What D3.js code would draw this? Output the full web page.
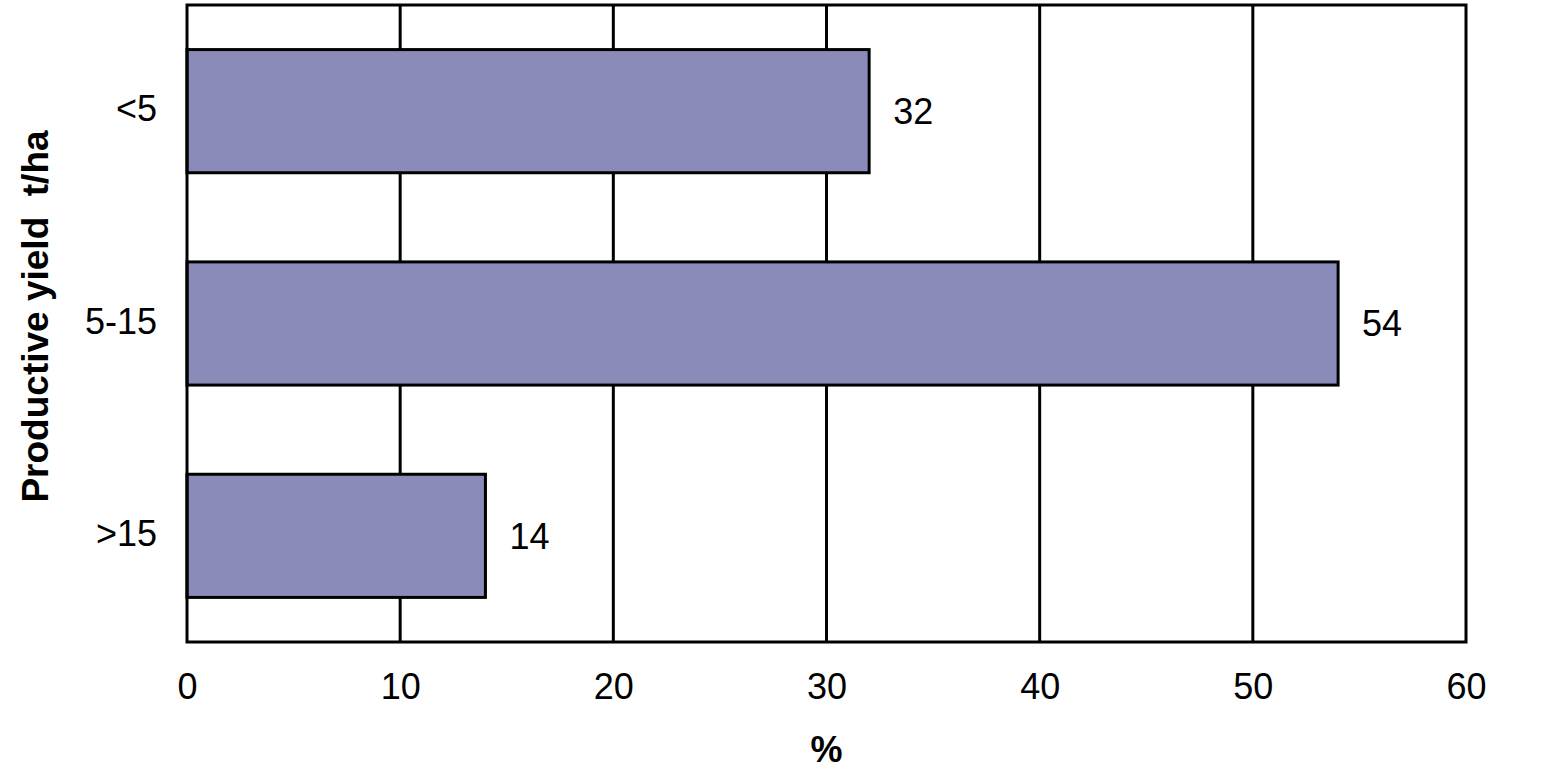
<!DOCTYPE html>
<html>
<head>
<meta charset="utf-8">
<script src="https://cdn.jsdelivr.net/npm/d3@7"></script>
<style>
  html, body { margin: 0; padding: 0; background: #fff; }
  svg text { font-family: "Liberation Sans", Arial, sans-serif; fill: #000; }
</style>
</head>
<body>
<div id="chart"></div>
<script>
// categories and values
const categories = ["<5", "5-15", ">15"];
const values = [32, 54, 14];
const xTicks = [0, 10, 20, 30, 40, 50, 60];
const xTitle = "%";
const yTitle = "Productive yield\u00a0\u00a0t/ha";

const width = 1556, height = 784;
const margin = { top: 5, right: 90, bottom: 142, left: 187 };

const svg = d3.select("#chart").append("svg")
    .attr("width", width)
    .attr("height", height);

const x = d3.scaleLinear()
    .domain([0, 60])
    .range([margin.left, width - margin.right]);

const y = d3.scaleBand()
    .domain(categories)
    .range([margin.top, height - margin.bottom])
    .paddingInner(0.42)
    .paddingOuter(0.21);

// vertical gridlines
svg.append("g")
    .selectAll("line")
    .data(xTicks.slice(1, -1))
    .join("line")
    .attr("x1", d => x(d)).attr("x2", d => x(d))
    .attr("y1", margin.top).attr("y2", height - margin.bottom)
    .attr("stroke", "#000")
    .attr("stroke-width", 3);

// bars
svg.append("g")
    .selectAll("rect")
    .data(values)
    .join("rect")
    .attr("x", x(0))
    .attr("y", (d, i) => y(categories[i]))
    .attr("width", d => x(d) - x(0))
    .attr("height", y.bandwidth())
    .attr("fill", "#8b8bba")
    .attr("stroke", "#000")
    .attr("stroke-width", 3);

// value labels
svg.append("g")
    .selectAll("text")
    .data(values)
    .join("text")
    .attr("x", d => x(d) + 24)
    .attr("y", (d, i) => y(categories[i]) + y.bandwidth() / 2)
    .attr("dy", "0.36em")
    .style("font-size", "36px")
    .text(d => d);

// plot frame
svg.append("rect")
    .attr("x", x(0))
    .attr("y", margin.top)
    .attr("width", x(60) - x(0))
    .attr("height", height - margin.bottom - margin.top)
    .attr("fill", "none")
    .attr("stroke", "#000")
    .attr("stroke-width", 3);

// x axis labels
const xAxis = svg.append("g")
    .attr("transform", `translate(0,${height - margin.bottom})`)
    .call(d3.axisBottom(x).tickValues(xTicks).tickSize(0).tickPadding(31));
xAxis.select(".domain").remove();
xAxis.selectAll("text")
    .attr("font-family", null)
    .style("font-size", "36px");

// y axis labels
const yAxis = svg.append("g")
    .attr("transform", `translate(${margin.left},0)`)
    .call(d3.axisLeft(y).tickSize(0).tickPadding(30));
yAxis.select(".domain").remove();
yAxis.selectAll("text")
    .attr("font-family", null)
    .attr("dy", "0.28em")
    .style("font-size", "36px");

// axis titles
svg.append("text")
    .attr("x", (x(0) + x(60)) / 2)
    .attr("y", 762)
    .attr("text-anchor", "middle")
    .style("font-size", "36px")
    .style("font-weight", "bold")
    .text(xTitle);

svg.append("text")
    .attr("transform", `translate(48,${(y.range()[0] + y.range()[1]) / 2 - 7}) rotate(-90)`)
    .attr("text-anchor", "middle")
    .style("font-size", "37px")
    .style("font-weight", "bold")
    .text(yTitle);
</script>
</body>
</html>
